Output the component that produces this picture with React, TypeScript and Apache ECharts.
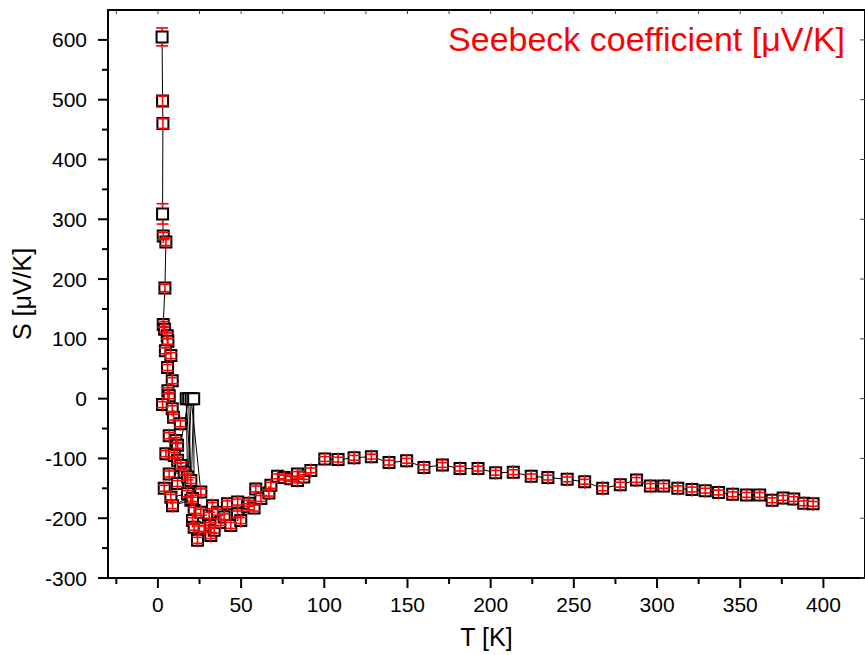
import React, { useEffect, useRef } from "react";
import * as echarts from "echarts";

// Measured temperature [K], Seebeck coefficient [µV/K] and its error, in acquisition order
const T_K = [
  2.5, 2.8, 3.0, 2.8, 3.2, 4.8, 4.2, 3.2, 4.0, 5.6, 6.0, 4.5, 7.8, 5.8, 8.6, 6.0, 6.8, 2.8,
  8.6, 9.4, 13.5, 6.8, 10.8, 11.8, 4.8, 9.8, 11.8, 13.8, 6.8, 15.8, 3.8, 11.8, 17.8, 17.0,
  19.8, 18.5, 7.8, 17.8, 20.0, 25.8, 8.8, 19.8, 21.5, 21.8, 20.8, 20.8, 24.8, 23.8, 21.8,
  25.8, 27.8, 30.8, 31.8, 31.8, 32.8, 33.8, 35.8, 37.8, 39.8, 41.8, 43.8, 47.9, 47.9, 49.8,
  53.8, 54.8, 57.8, 58.8, 61.9, 66.7, 67.9, 71.9, 75.9, 79.9, 83.9, 83.9, 87.7, 91.9,
  100.3, 108.3, 117.9, 128.3, 138.9, 149.5, 159.9, 171.0, 181.6, 192.4, 203.0, 213.6,
  224.4, 234.4, 246.0, 256.5, 267.3, 277.9, 287.7, 296.0, 304.0, 312.5, 321.0, 329.0,
  337.0, 345.5, 353.8, 361.7, 369.2, 375.8, 382.2, 388.2, 393.8,
];
const S_uVK = [
  605, 498, 460, 309, 272, 262, 185, 124, 116, 105, 96, 80, 72, 52, 30, 13, 5, -10,
  -17, -31, -42, -62, -70, -78, -92, -95, -103, -112, -126, -123, -150, -142, -131, 0,
  -137, 0, -165, -159, 0, -156, -179, -170, 0, -187, -167, -204, -218, -237, -215,
  -190, -217, -195, -229, -212, -179, -220, -190, -207, -198, -176, -212, -173, -193, -204,
  -181, -175, -183, -151, -167, -158, -145, -130, -132, -134, -137, -126, -131, -120,
  -101, -102, -99, -97, -107, -104, -115, -111, -117, -117, -124, -123,
  -130, -132, -135, -139, -150, -144, -136, -146, -146, -150, -152, -154,
  -157, -160, -161, -161, -170, -166, -168, -175, -176,
];
const S_err = [
  15, 8, 8, 17, 6, 6, 6, 5, 5, 5, 5, 5, 5, 5, 5, 5, 5, 5,
  5, 5, 5, 5, 5, 5, 5, 5, 5, 5, 5, 5, 5, 5, 5, 0,
  5, 0, 5, 5, 0, 5, 5, 5, 0, 5, 5, 5, 5, 5, 5,
  5, 5, 5, 5, 5, 5, 5, 5, 5, 5, 5, 5, 5, 5, 5,
  5, 5, 5, 5, 5, 5, 5, 4, 4, 4, 4, 4, 4, 4,
  4, 4, 4, 4, 4, 4, 4, 4, 4, 4, 4, 4,
  4, 4, 4, 4, 4, 4, 4, 4, 4, 4, 4, 4,
  4, 4, 4, 4, 4, 4, 4, 4, 4,
];

// Axis ranges and tick values
const X_MIN = -30;
const X_MAX = 425;
const Y_MIN = -300;
const Y_MAX = 650;
const xMajorTicks = [0, 50, 100, 150, 200, 250, 300, 350, 400];
const xMinorTicks = [-25, 25, 75, 125, 175, 225, 275, 325, 375];
const yMajorTicks = [-300, -200, -100, 0, 100, 200, 300, 400, 500, 600];
const yMinorTicks = [-250, -150, -50, 50, 150, 250, 350, 450, 550];

const TITLE = "Seebeck coefficient [\u03BCV/K]";
const X_NAME = "T [K]";
const Y_NAME = "S [\u03BCV/K]";

const FONT = "'Liberation Sans', Arial, Helvetica, sans-serif";

export default function App() {
  const ref = useRef<HTMLDivElement>(null);

  useEffect(() => {
    if (!ref.current) return;
    const chart = echarts.init(ref.current, null, { renderer: "svg" });

    const points = T_K.map((t, i) => [t, S_uVK[i]]);
    const errData = T_K.map((t, i) => [t, S_uVK[i], S_err[i]]);

    // tick data: [x, y, code]
    const tickData: number[][] = [];
    xMajorTicks.forEach((v) => tickData.push([v, Y_MIN, 0]));
    xMinorTicks.forEach((v) => tickData.push([v, Y_MIN, 1]));
    yMajorTicks.forEach((v) => tickData.push([X_MIN, v, 2]));
    yMinorTicks.forEach((v) => tickData.push([X_MIN, v, 3]));
    xMajorTicks.concat(xMinorTicks).forEach((v) => tickData.push([v, Y_MAX, 4]));
    yMajorTicks.forEach((v) => tickData.push([X_MAX, v, 5]));

    const option: any = {
      animation: false,
      backgroundColor: "#fff",
      textStyle: { fontFamily: FONT },
      grid: {
        left: 108,
        right: 0,
        top: 10,
        bottom: 77,
        show: true,
        borderColor: "#000",
        borderWidth: 2,
        outerBoundsMode: "none",
      },
      xAxis: {
        type: "value",
        min: X_MIN,
        max: X_MAX,
        splitNumber: 9,
        axisLine: { onZero: false, lineStyle: { color: "#000", width: 2 } },
        axisTick: { show: false },
        splitLine: { show: false },
        axisLabel: {
          showMinLabel: false,
          showMaxLabel: false,
          fontSize: 21,
          color: "#000",
          margin: 16,
          fontFamily: FONT,
          formatter: (v: number) => (v % 50 === 0 ? String(v) : ""),
        },
        name: X_NAME,
        nameLocation: "middle",
        nameGap: 46,
        nameTextStyle: { fontSize: 25, color: "#000", fontFamily: FONT },
      },
      yAxis: {
        type: "value",
        min: Y_MIN,
        max: Y_MAX,
        interval: 100,
        axisLine: { onZero: false, lineStyle: { color: "#000", width: 2 } },
        axisTick: { show: false },
        splitLine: { show: false },
        axisLabel: {
          showMaxLabel: false,
          fontSize: 21,
          color: "#000",
          margin: 21,
          fontFamily: FONT,
          formatter: (v: number) => (v % 100 === 0 ? String(v) : ""),
        },
        name: Y_NAME,
        nameLocation: "middle",
        nameGap: 66,
        nameRotate: 90,
        nameTextStyle: { fontSize: 25, color: "#000", fontFamily: FONT },
      },
      graphic: [
        {
          type: "text",
          right: 20,
          top: 22,
          style: {
            text: TITLE,
            fill: "#ff0000",
            font: `34px ${FONT}`,
          },
        },
      ],
      series: [
        {
          name: "ticks",
          type: "custom",
          silent: true,
          z: 5,
          encode: { x: 0, y: 1 },
          data: tickData,
          renderItem: (params: any, api: any) => {
            const code = api.value(2);
            const p = api.coord([api.value(0), api.value(1)]);
            let shape;
            if (code === 0) shape = { x1: p[0], y1: p[1], x2: p[0], y2: p[1] + 10 };
            else if (code === 1) shape = { x1: p[0], y1: p[1], x2: p[0], y2: p[1] + 6 };
            else if (code === 2) shape = { x1: p[0], y1: p[1], x2: p[0] - 10, y2: p[1] };
            else if (code === 3) shape = { x1: p[0], y1: p[1], x2: p[0] - 6, y2: p[1] };
            else if (code === 4) shape = { x1: p[0], y1: p[1], x2: p[0], y2: p[1] + 4 };
            else shape = { x1: p[0], y1: p[1], x2: p[0] - 5, y2: p[1] };
            return {
              type: "line",
              shape,
              style: { stroke: code >= 4 ? "#444" : "#000", lineWidth: code >= 4 ? 1 : 2 },
            };
          },
        },
        {
          name: "S",
          type: "line",
          data: points,
          z: 2,
          symbol: "emptyRect",
          symbolSize: 11,
          showAllSymbol: true,
          lineStyle: { color: "#000", width: 1 },
          itemStyle: { color: "#000", borderColor: "#000", borderWidth: 1.5 },
        },
        {
          name: "err",
          type: "custom",
          z: 3,
          encode: { x: 0, y: 1 },
          data: errData,
          renderItem: (params: any, api: any) => {
            const x = api.value(0);
            const y = api.value(1);
            const e = api.value(2);
            if (!e) return null;
            const c = api.coord([x, y]);
            const top = api.coord([x, y + e]);
            const bot = api.coord([x, y - e]);
            const hw = 6;
            const half = 5.5;
            const style = { stroke: "#ff0000", lineWidth: 1.6 };
            const children: any[] = [
              { type: "line", shape: { x1: c[0] - hw, y1: top[1], x2: c[0] + hw, y2: top[1] }, style },
              { type: "line", shape: { x1: c[0] - hw, y1: bot[1], x2: c[0] + hw, y2: bot[1] }, style },
            ];
            if (c[1] - top[1] > half) {
              children.push({ type: "line", shape: { x1: c[0], y1: top[1], x2: c[0], y2: c[1] - half }, style });
              children.push({ type: "line", shape: { x1: c[0], y1: c[1] + half, x2: c[0], y2: bot[1] }, style });
            } else {
              children.push({ type: "line", shape: { x1: c[0], y1: c[1] - 7, x2: c[0], y2: c[1] + 7 }, style });
            }
            return { type: "group", children };
          },
        },
      ],
    };

    chart.setOption(option);
    return () => chart.dispose();
  }, []);

  return <div ref={ref} style={{ width: 865, height: 655, position: "absolute", left: 0, top: 0 }} />;
}
